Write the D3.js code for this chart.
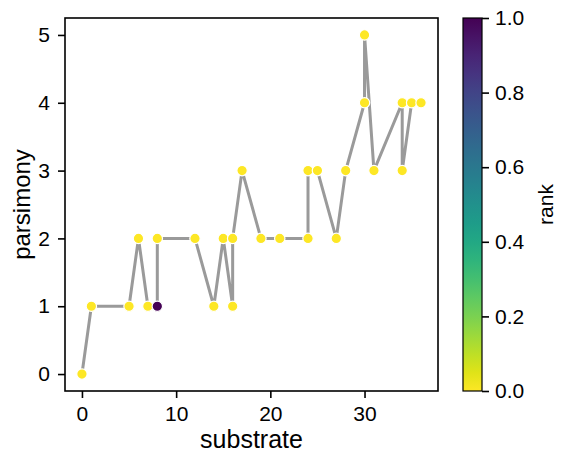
<!DOCTYPE html>
<html>
<head>
<meta charset="utf-8">
<script src="https://cdn.jsdelivr.net/npm/d3@7"></script>
<style>
  body { margin: 0; background: #fff; }
  text { font-family: "Liberation Sans", Arial, sans-serif; fill: #000; }
</style>
</head>
<body>
<div id="main"></div>
<script>
// values, in drawing order of the line
var substrate = [0, 1, 5, 6, 7, 8, 8, 12, 14, 15, 16, 16, 17, 19, 21, 24, 24, 25, 27, 28, 30, 30, 31, 34, 34, 35, 36];
var parsimony = [0, 1, 1, 2, 1, 1, 2, 2, 1, 2, 1, 2, 3, 2, 2, 2, 3, 3, 2, 3, 4, 5, 3, 4, 3, 4, 4];
var rank      = [0, 0, 0, 0, 0, 1, 0, 0, 0, 0, 0, 0, 0, 0, 0, 0, 0, 0, 0, 0, 0, 0, 0, 0, 0, 0, 0];
var xTicks = [0, 10, 20, 30];
var yTicks = [0, 1, 2, 3, 4, 5];
var cTicks = [0, 0.2, 0.4, 0.6, 0.8, 1.0];

var width = 565, height = 465;
var pL = 65, pR = 438, pT = 18, pB = 391;

var svg = d3.select("#main").append("svg")
    .attr("width", width).attr("height", height);

var x = d3.scaleLinear().domain([-1.8, 37.8]).range([pL, pR]);
var y = d3.scaleLinear().domain([-0.25, 5.25]).range([pB, pT]);
var color = d3.scaleSequential(d3.interpolateViridis).domain([1, 0]); // yellow = 0, purple = 1

var pts = substrate.map(function(d, i) { return {x: d, y: parsimony[i], r: rank[i]}; });

// line
var line = d3.line().x(function(d) { return x(d.x); }).y(function(d) { return y(d.y); });
svg.append("path")
    .datum(pts)
    .attr("d", line)
    .attr("fill", "none")
    .attr("stroke", "#9a9a9a")
    .attr("stroke-width", 3)
    .attr("stroke-linejoin", "round");

// points
svg.selectAll("circle.pt")
    .data(pts)
    .enter().append("circle")
    .attr("class", "pt")
    .attr("cx", function(d) { return x(d.x); })
    .attr("cy", function(d) { return y(d.y); })
    .attr("r", 5.2)
    .attr("fill", function(d) { return color(d.r); })
    .attr("stroke", "#fff")
    .attr("stroke-width", 1.2);

// axes
var xAxis = svg.append("g")
    .attr("transform", "translate(0," + pB + ")")
    .call(d3.axisBottom(x).tickValues(xTicks).tickSize(7).tickPadding(8).tickFormat(d3.format("d")));
var yAxis = svg.append("g")
    .attr("transform", "translate(" + pL + ",0)")
    .call(d3.axisLeft(y).tickValues(yTicks).tickSize(7).tickPadding(8).tickFormat(d3.format("d")));
[xAxis, yAxis].forEach(function(a) {
  a.select(".domain").remove();
  a.selectAll(".tick line").attr("stroke", "#000").attr("stroke-width", 1.6);
  a.selectAll(".tick text").style("font-size", "21px").attr("fill", "#000");
});

// frame
svg.append("rect")
    .attr("x", pL).attr("y", pT)
    .attr("width", pR - pL).attr("height", pB - pT)
    .attr("fill", "none").attr("stroke", "#000").attr("stroke-width", 1.6);

// axis labels
svg.append("text")
    .attr("x", (pL + pR) / 2).attr("y", 448)
    .attr("text-anchor", "middle")
    .style("font-size", "25px")
    .text("substrate");
svg.append("text")
    .attr("transform", "translate(30," + (pT + pB) / 2 + ") rotate(-90)")
    .attr("text-anchor", "middle")
    .style("font-size", "24px")
    .text("parsimony");

// colorbar
var cbL = 463, cbR = 482;
var cScale = d3.scaleLinear().domain([0, 1]).range([pB, pT]);
var defs = svg.append("defs");
var grad = defs.append("linearGradient")
    .attr("id", "cbgrad")
    .attr("x1", 0).attr("y1", 1).attr("x2", 0).attr("y2", 0);
d3.range(0, 1.0001, 0.05).forEach(function(t) {
  grad.append("stop").attr("offset", t).attr("stop-color", color(t));
});
svg.append("rect")
    .attr("x", cbL).attr("y", pT)
    .attr("width", cbR - cbL).attr("height", pB - pT)
    .attr("fill", "url(#cbgrad)")
    .attr("stroke", "#000").attr("stroke-width", 1.2);
var cAxis = svg.append("g")
    .attr("transform", "translate(" + cbR + ",0)")
    .call(d3.axisRight(cScale).tickValues(cTicks).tickSize(7).tickPadding(6).tickFormat(d3.format(".1f")));
cAxis.select(".domain").remove();
cAxis.selectAll(".tick line").attr("stroke", "#000").attr("stroke-width", 1.6);
cAxis.selectAll(".tick text").style("font-size", "21px").attr("fill", "#000");

svg.append("text")
    .attr("transform", "translate(553," + (pT + pB) / 2 + ") rotate(-90)")
    .attr("text-anchor", "middle")
    .style("font-size", "21px")
    .text("rank");
</script>
</body>
</html>
